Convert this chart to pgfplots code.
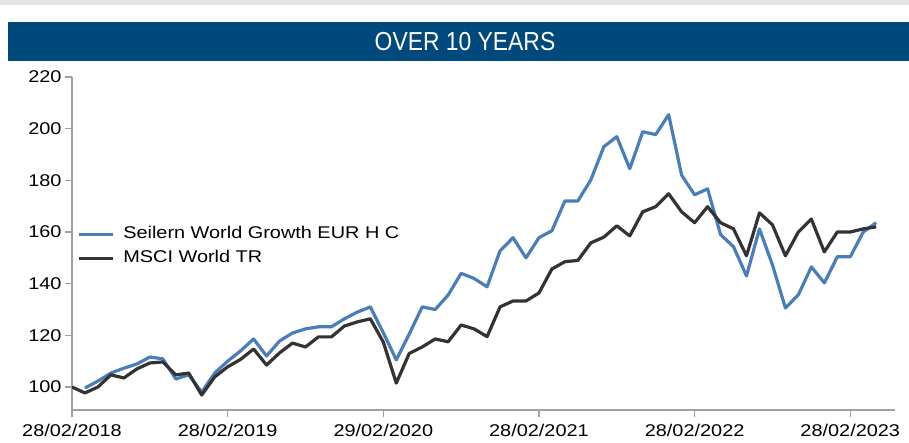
\documentclass[border=0pt]{standalone}
\usepackage{fontspec}
\setmainfont{Liberation Sans}[FakeStretch=1.17]
\newfontfamily\titlefont{Liberation Sans}[FakeStretch=0.88]
\usepackage{pgfplots}
\pgfplotsset{compat=1.18}
\definecolor{barblue}{RGB}{0,73,124}
\definecolor{lineblue}{RGB}{74,126,187}
\definecolor{lineblack}{RGB}{51,51,51}
\definecolor{axisgray}{RGB}{160,160,160}
\definecolor{topgray}{RGB}{228,228,228}
\begin{document}
\begin{tikzpicture}
\path[use as bounding box] (0pt,0pt) rectangle (909pt,443pt);
\fill[topgray] (0pt,438pt) rectangle (909pt,443pt);
\fill[barblue] (8pt,382pt) rectangle (909pt,421pt);
\node[anchor=base, text=white, inner sep=0pt, font=\titlefont\fontsize{26}{26}\selectfont] at (465pt,392.5pt) {OVER 10 YEARS};
\begin{axis}[
  at={(72pt,33pt)}, anchor=south west,
  scale only axis, width=823pt, height=333pt,
  xmin=0, xmax=63.45, ymin=91.1, ymax=220,
  axis lines=left,
  axis line style={-, draw=axisgray, line width=1.5pt},
  xtick={0,12,24,36,48,60},
  xticklabels={28/02/2018,28/02/2019,29/02/2020,28/02/2021,28/02/2022,28/02/2023},
  ytick={100,120,140,160,180,200,220},
  tick align=outside, major tick length=7pt,
  tick style={draw=axisgray, line width=1.2pt},
  ticklabel style={font=\fontsize{17}{17}\selectfont, text=black},
  xticklabel style={yshift=-4pt},
  /pgf/number format/assume math mode=true,
  legend cell align=left,
  legend image code/.code={\draw[#1] (0pt,0pt) -- (34pt,0pt);},
  legend style={at={(0.006,0.557)}, anchor=north west, draw=none, fill=none,
    font=\fontsize{17}{17}\selectfont, row sep=5pt, column sep=8pt, inner sep=0pt,
    nodes={inner sep=1pt, text height=13pt, text depth=4pt}},
  every axis plot/.append style={line width=3.2pt, line join=round},
]
\addplot[color=lineblue] coordinates {
(1,99.6) (2,102.3) (3,105.4) (4,107.3) (5,108.9) (6,111.6) (7,110.9) (8,103.1) (9,104.7) (10,98)
(11,105.4) (12,110) (13,114) (14,118.6) (15,112) (16,117.8) (17,120.9) (18,122.5) (19,123.3) (20,123.3)
(21,126.4) (22,129) (23,131) (24,121) (25,110.5) (26,120.5) (27,131) (28,130) (29,135.6) (30,144)
(31,142) (32,138.8) (33,152.7) (34,157.8) (35,150) (36,157.8) (37,160.5) (38,172) (39,172) (40,180.2)
(41,193) (42,196.9) (43,184.5) (44,198.8) (45,197.7) (46,205.4) (47,182) (48,174.4) (49,176.7) (50,159)
(51,154.3) (52,143) (53,161.2) (54,147.3) (55,130.6) (56,135.7) (57,146.5) (58,140.3) (59,150.4) (60,150.4)
(61,160) (62,163.6)
};
\addlegendentry{Seilern World Growth EUR H C}
\addplot[color=lineblack] coordinates {
(0,100) (1,97.7) (2,100) (3,104.7) (4,103.5) (5,107) (6,109.3) (7,109.7) (8,104.7) (9,105.4) (10,96.9)
(11,103.9) (12,107.8) (13,110.7) (14,114.7) (15,108.5) (16,113.2) (17,117) (18,115.5) (19,119.4) (20,119.4)
(21,123.6) (22,125.2) (23,126.4) (24,117.4) (25,101.5) (26,113) (27,115.5) (28,118.6) (29,117.5) (30,124)
(31,122.5) (32,119.5) (33,131) (34,133.3) (35,133.3) (36,136.4) (37,145.7) (38,148.5) (39,149) (40,155.8)
(41,158) (42,162.4) (43,158.5) (44,167.8) (45,169.8) (46,174.8) (47,167.8) (48,163.6) (49,169.8) (50,163.6)
(51,161.2) (52,150.8) (53,167.4) (54,162.8) (55,150.8) (56,160) (57,165) (58,152.3) (59,160) (60,160)
(61,161.2) (62,162)
};
\addlegendentry{MSCI World TR}
\end{axis}
\end{tikzpicture}
\end{document}
